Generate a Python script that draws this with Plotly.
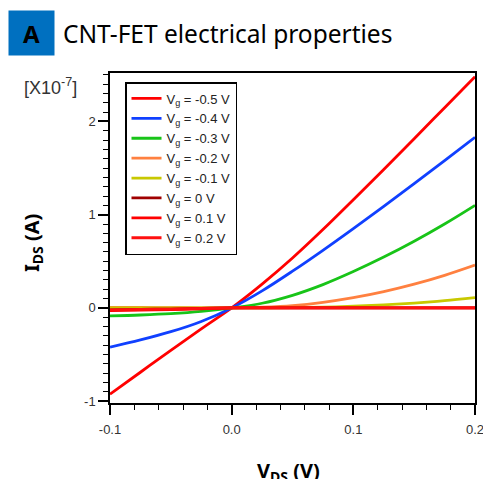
import plotly.graph_objects as go

# ---- data (I_DS in units of 1e-7 A) ----
vds = [-0.1, -0.075, -0.05, -0.025, 0.0, 0.025, 0.05, 0.075, 0.1, 0.125, 0.15, 0.175, 0.2]

vg_labels = ["-0.5", "-0.4", "-0.3", "-0.2", "-0.1", "0", "0.1", "0.2"]
ids_m05 = [-0.925, -0.69, -0.455, -0.225, 0.0, 0.255, 0.535, 0.84, 1.16, 1.485, 1.815, 2.148, 2.48]
ids_m04 = [-0.42, -0.344, -0.255, -0.145, 0.0, 0.183, 0.394, 0.618, 0.851, 1.09, 1.333, 1.58, 1.83]
ids_m03 = [-0.085, -0.076, -0.062, -0.038, 0.0, 0.05, 0.135, 0.25, 0.39, 0.545, 0.715, 0.9, 1.10]
ids_m02 = [0.006, 0.005, 0.003, 0.001, 0.0, 0.008, 0.025, 0.06, 0.11, 0.175, 0.255, 0.35, 0.46]
ids_m01 = [0.0, 0.0, 0.0, 0.0, 0.0, 0.001, 0.004, 0.009, 0.018, 0.032, 0.052, 0.078, 0.11]
ids_0 = [-0.02, -0.016, -0.012, -0.006, 0.0, 0.0, 0.0, 0.0, 0.0, 0.0, 0.0, 0.0, 0.0]
ids_p01 = [-0.03, -0.024, -0.017, -0.009, 0.0, 0.0, 0.0, 0.0, 0.0, 0.0, 0.0, 0.0, 0.0]
ids_p02 = [-0.022, -0.017, -0.012, -0.006, 0.0, 0.0, 0.0, 0.0, 0.0, 0.0, 0.0, 0.0, 0.0]

series = [ids_m05, ids_m04, ids_m03, ids_m02, ids_m01, ids_0, ids_p01, ids_p02]
colors = ["#ff0000", "#1040ff", "#18c418", "#ff8040", "#c8c800", "#a00000", "#ff0000", "#ff1010"]

x_ticks = [-0.1, 0.0, 0.1, 0.2]
y_ticks = [-1, 0, 1, 2]

fig = go.Figure()
for lab, ys, c in zip(vg_labels, series, colors):
    fig.add_trace(go.Scatter(
        x=vds, y=ys, mode="lines", line=dict(color=c, width=2.8, shape="spline"),
        name=f"V<sub>g</sub> = {lab} V",
    ))

L, R, T, B = 110, 8, 73, 76
W, H = 483, 479
pw, ph = W - L - R, H - T - B

def px(xp):
    return (xp - L) / pw

def py(yp):
    return (H - B - yp) / ph

axis_common = dict(
    showgrid=False, zeroline=False, showline=True, linecolor="black", linewidth=1.5,
    mirror=True, ticks="outside", tickcolor="black", tickwidth=1.5, ticklen=10,
    automargin=False, ticklabeloverflow="allow",
    tickfont=dict(family="Liberation Sans, Arial", size=13, color="#333"),
)

fig.update_xaxes(range=[-0.1, 0.2], tickvals=x_ticks, ticktext=[f"{v:.1f}" for v in x_ticks],
                 ticklabelstandoff=4,
                 minor=dict(ticks="outside", dtick=0.02, tick0=0, ticklen=5, tickcolor="black", tickwidth=1.2),
                 **axis_common)
fig.update_yaxes(range=[-1.02, 2.52], tickvals=y_ticks, ticktext=[str(v) for v in y_ticks],
                 minor=dict(ticks="outside", dtick=0.1, tick0=0, ticklen=5, tickcolor="black", tickwidth=1.2),
                 **axis_common)

fig.update_layout(
    width=W, height=H, margin=dict(l=L, r=R, t=T, b=B, autoexpand=False),
    plot_bgcolor="white", paper_bgcolor="white",
    showlegend=True,
    legend=dict(x=px(125), y=py(82), xanchor="left", yanchor="top",
                bordercolor="black", borderwidth=1.5, bgcolor="white",
                font=dict(family="Liberation Sans, Arial", size=13, color="#222"),
                tracegroupgap=0, itemwidth=30),
    annotations=[
        dict(text="<b>A</b>", xref="paper", yref="paper", x=px(8), y=py(10), xanchor="left", yanchor="top",
             showarrow=False, bgcolor="#0070c0", width=43, height=42, borderpad=1,
             font=dict(family="Noto Sans", size=24, color="black")),
        dict(text="CNT-FET electrical properties", xref="paper", yref="paper", x=px(61), y=py(33),
             xanchor="left", yanchor="middle", showarrow=False,
             font=dict(family="Noto Sans", size=24.5, color="black")),
        dict(text="[X10<sup>-7</sup>]", xref="paper", yref="paper", x=px(50), y=py(86),
             xanchor="center", yanchor="middle", showarrow=False,
             font=dict(family="Liberation Sans, Arial", size=18, color="#333")),
        dict(text="<b>I<sub>DS</sub> (A)</b>", xref="paper", yref="paper", x=px(32), y=py(243),
             xanchor="center", yanchor="middle", showarrow=False, textangle=-90,
             font=dict(family="Noto Sans", size=20, color="black")),
        dict(text="<b>V<sub>DS</sub> (V)</b>", xref="paper", yref="paper", x=px(288), y=py(455),
             xanchor="center", yanchor="top", showarrow=False,
             font=dict(family="Noto Sans", size=20, color="black")),
    ],
)

fig.write_html("out.html")
